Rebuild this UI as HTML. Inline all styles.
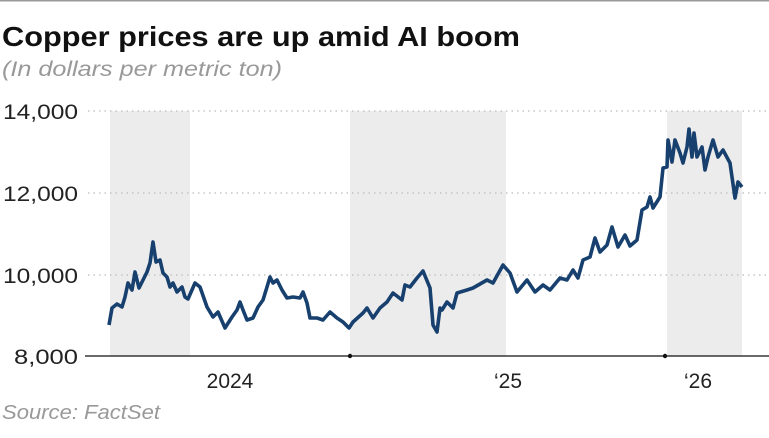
<!DOCTYPE html>
<html><head><meta charset="utf-8"><style>
body{margin:0;background:#fff;width:769px;height:433px;overflow:hidden;font-family:"Liberation Sans",sans-serif}
</style></head><body>
<svg width="769" height="433" xmlns="http://www.w3.org/2000/svg" font-family="Liberation Sans, sans-serif">
<rect x="0" y="0" width="769" height="1.5" fill="#999"/>
<text x="2" y="46" font-size="28" font-weight="bold" fill="#111" textLength="518" lengthAdjust="spacingAndGlyphs">Copper prices are up amid AI boom</text>
<text x="2" y="76" font-size="21" font-style="italic" fill="#999" textLength="280" lengthAdjust="spacingAndGlyphs">(In dollars per metric ton)</text>
<rect x="110" y="111" width="80" height="245" fill="#ececec"/>
<rect x="350" y="111" width="156" height="245" fill="#ececec"/>
<rect x="667" y="111" width="75" height="245" fill="#ececec"/>
<g stroke="#bbb" stroke-width="1.2" stroke-dasharray="1.5 4">
<line x1="88" y1="111" x2="769" y2="111"/><line x1="88" y1="193" x2="769" y2="193"/><line x1="88" y1="275" x2="769" y2="275"/></g>
<line x1="85" y1="356" x2="769" y2="356" stroke="#111" stroke-width="1.2"/>
<circle cx="350" cy="356" r="2.2" fill="#111"/><circle cx="665" cy="356" r="2.2" fill="#111"/>
<g font-size="21" fill="#222">
<text x="3" y="119" textLength="75" lengthAdjust="spacingAndGlyphs">14,000</text>
<text x="3" y="201" textLength="75" lengthAdjust="spacingAndGlyphs">12,000</text>
<text x="3" y="283" textLength="75" lengthAdjust="spacingAndGlyphs">10,000</text>
<text x="14" y="364" textLength="64" lengthAdjust="spacingAndGlyphs">8,000</text></g>
<g font-size="21" fill="#222" text-anchor="middle">
<text x="230" y="388">2024</text><text x="508" y="388">‘25</text><text x="698" y="388">‘26</text></g>
<text x="2" y="419" font-size="20" font-style="italic" fill="#999" textLength="158" lengthAdjust="spacingAndGlyphs">Source: FactSet</text>
<polyline fill="none" stroke="#17406e" stroke-width="3.6" stroke-linejoin="round" points="109,325 112,308 117,304 122,307 125,297 128,283 132,290 135,272 139,288 143,280 147,272 150,263 153,242 156,262 160,260 163,273 167,277 170,287 173,283 177,292 182,287 185,297 188,299 195,283 200,287 207,307 213,317 218,312 225,328 232,317 237,310 240,302 243,310 247,320 253,318 258,307 263,300 267,287 270,277 273,283 277,280 282,290 287,298 293,297 300,298 303,292 307,303 310,318 317,318 323,320 330,312 337,318 343,322 349,328 353,322 363,313 367,308 373,318 380,308 387,302 393,293 402,300 405,285 410,287 417,278 423,271 430,288 433,325 437,332 440,308 442,310 447,302 453,308 457,293 467,290 473,288 487,280 493,283 503,265 510,273 517,292 527,280 535,292 543,285 550,290 560,278 567,280 573,270 578,278 583,260 590,257 595,238 600,252 607,245 612,227 618,247 625,235 630,246 637,240 642,210 647,207 650,197 653,208 660,197 663,168 667,167 668,140 672,162 675,140 680,153 683,163 687,147 689,129 692,157 694,133 697,157 702,147 705,170 708,157 713,140 718,157 723,150 730,163 735,198 738,182 742,187"/>
</svg>
</body></html>
